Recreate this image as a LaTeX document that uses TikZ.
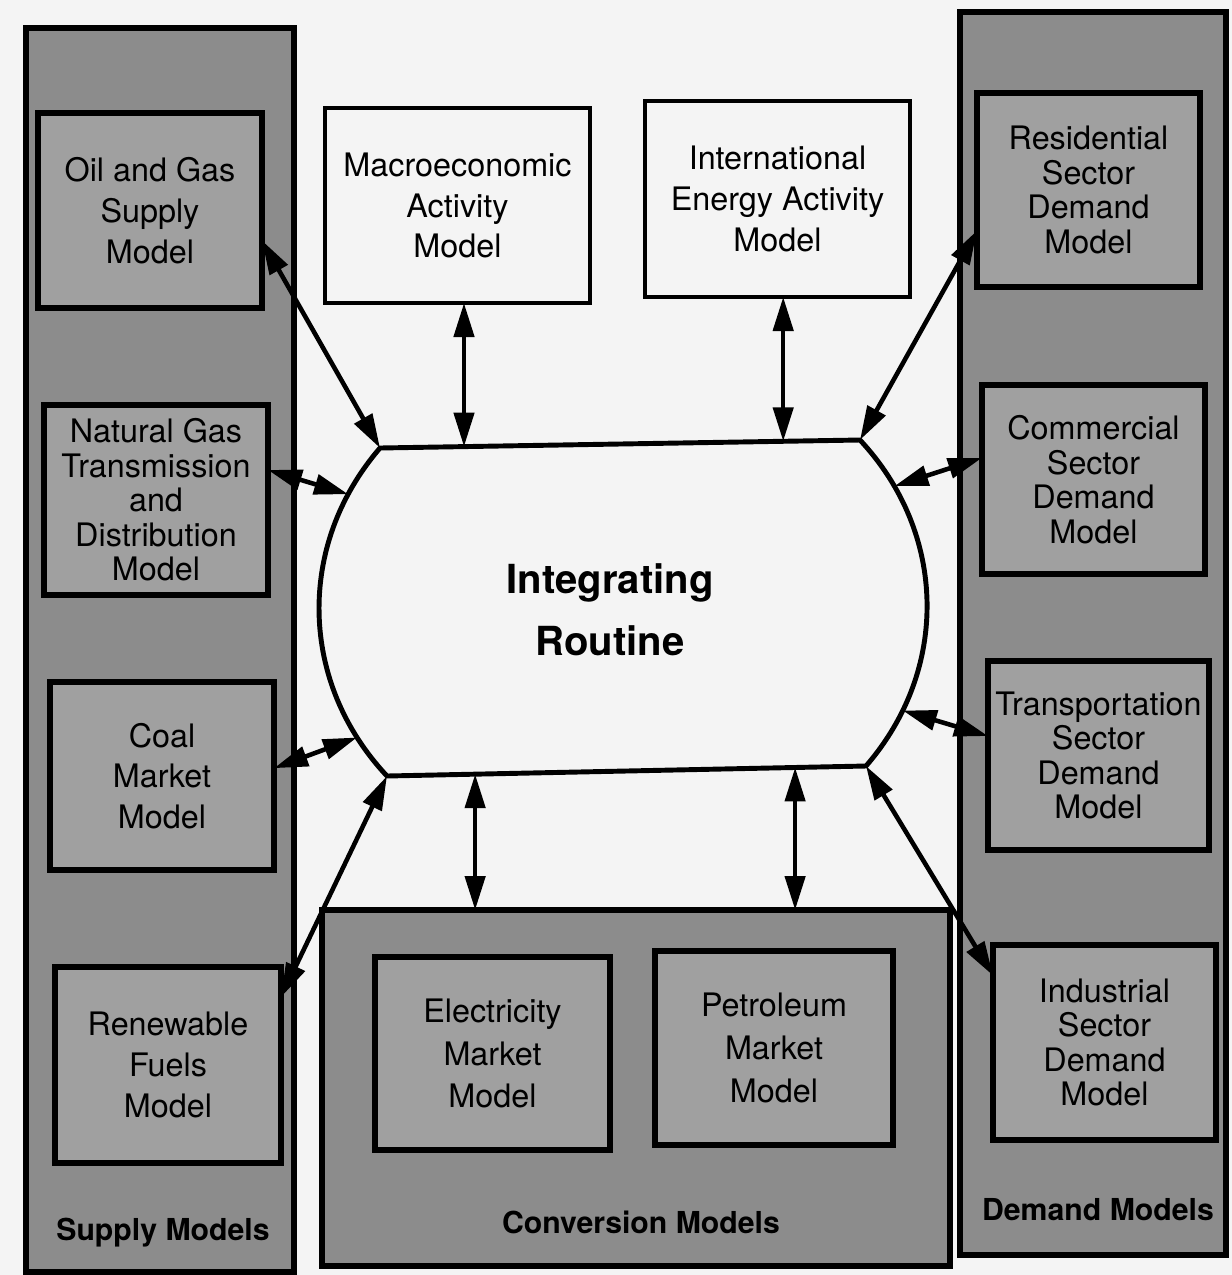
\documentclass[tikz,border=0pt]{standalone}
\usepackage{fontspec}
\setmainfont{TeX Gyre Heros}
\usetikzlibrary{arrows.meta, calc}
\definecolor{paper}{RGB}{244,244,244}
\definecolor{panelgray}{RGB}{140,140,140}
\definecolor{boxgray}{RGB}{160,160,160}

\begin{document}
\begin{tikzpicture}
	\tikzstyle{panel} = [draw, line width=1.7pt, fill=panelgray, inner sep=0pt, outer sep=0pt]
	\tikzstyle{model} = [draw, line width=1.6pt, fill=boxgray, align=center, inner sep=0pt, outer sep=0pt, minimum width=2.24cm, minimum height=1.93cm, font=\fontsize{9.2}{11.6}\selectfont]
	\tikzstyle{sector} = [model, font=\fontsize{9.2}{9.8}\selectfont]
	\tikzstyle{outside} = [model, fill=paper, line width=1.4pt, minimum width=2.65cm, minimum height=1.95cm]
	\tikzstyle{paneltitle} = [inner sep=0pt, font=\bfseries\fontsize{8.6}{10}\selectfont]
	\tikzstyle{routine} = [draw, line width=1.4pt]
	\tikzstyle{link} = [<->, >={Triangle[length=3.4mm,width=2mm]}, line width=1.3pt]

	\fill[paper] (0,0) rectangle (12.32,-12.75);
	\useasboundingbox (0,0) rectangle (12.32,-12.75);

	% Panels
	\node[panel, minimum width=2.68cm, minimum height=12.44cm] (supply) at (1.60,-6.50) {};
	\node[panel, minimum width=2.66cm, minimum height=12.43cm] (demand) at (10.93,-6.335) {};
	\node[panel, minimum width=6.28cm, minimum height=3.56cm] (conv) at (6.36,-10.88) {};
	\node[paneltitle] (supplyTitle) at (1.63,-12.33) {Supply Models};
	\node[paneltitle] (convTitle) at (6.41,-12.22) {Conversion Models};
	\node[paneltitle] (demandTitle) at (10.98,-12.10) {Demand Models};

	% Supply models
	\node[model, minimum height=1.95cm] (oil) at (1.50,-2.105) {Oil and Gas\\Supply\\Model};
	\node[sector, minimum height=1.90cm] (ng) at (1.56,-5.00) {Natural Gas\\Transmission\\and\\Distribution\\Model};
	\node[model, minimum height=1.88cm] (coal) at (1.62,-7.76) {Coal\\Market\\Model};
	\node[model, minimum width=2.26cm, minimum height=1.96cm] (ren) at (1.68,-10.65) {Renewable\\Fuels\\Model};

	% Outside models
	\node[outside] (macro) at (4.575,-2.055) {Macroeconomic\\Activity\\Model};
	\node[outside, minimum height=1.96cm] (intl) at (7.775,-1.99) {International\\Energy Activity\\Model};

	% Demand models
	\node[sector, minimum width=2.23cm, minimum height=1.94cm] (res) at (10.885,-1.90) {Residential\\Sector\\Demand\\Model};
	\node[sector, minimum width=2.23cm, minimum height=1.89cm] (com) at (10.935,-4.795) {Commercial\\Sector\\Demand\\Model};
	\node[sector, minimum width=2.21cm, minimum height=1.89cm] (trans) at (10.985,-7.555) {Transportation\\Sector\\Demand\\Model};
	\node[sector, minimum width=2.23cm, minimum height=1.95cm] (ind) at (11.045,-10.425) {Industrial\\Sector\\Demand\\Model};

	% Conversion models
	\node[model, minimum width=2.35cm, font=\fontsize{9.2}{12.2}\selectfont] (elec) at (4.925,-10.535) {Electricity\\Market\\Model};
	\node[model, minimum width=2.38cm, minimum height=1.94cm, font=\fontsize{9.2}{12.2}\selectfont] (petrol) at (7.74,-10.48) {Petroleum\\Market\\Model};

	% Integrating routine
	\coordinate (irTL) at (3.80,-4.48);
	\coordinate (irTR) at (8.60,-4.40);
	\coordinate (irBR) at (8.66,-7.66);
	\coordinate (irBL) at (3.87,-7.76);
	\draw[routine] (irTL) -- (irTR)
		to[bend left=42] coordinate[pos=0.155] (comIR) coordinate[pos=0.82] (trIR) (irBR)
		-- (irBL)
		to[bend left=42] coordinate[pos=0.13] (coalIR) coordinate[pos=0.85] (ngIR) (irTL) -- cycle;
	\node[align=center, font=\bfseries\fontsize{11.4}{17.7}\selectfont] (ir) at (6.10,-6.10) {Integrating\\Routine};
	\coordinate (mTop) at ($(irTL)!0.175!(irTR)$);
	\coordinate (iTop) at ($(irTL)!0.84!(irTR)$);
	\coordinate (eBot) at ($(irBL)!0.184!(irBR)$);
	\coordinate (pBot) at ($(irBL)!0.852!(irBR)$);

	% Links to supply
	\draw[link] (oil.-15) -- (irTL);
	\draw[link] (ng.15) -- (ngIR);
	\draw[link] (coal.4) -- (coalIR);
	\draw[link] (ren.31) -- (irBL);
	% Links to outside
	\draw[link] (mTop |- macro.south) -- (mTop);
	\draw[link] (iTop |- intl.south) -- (iTop);
	% Links to demand
	\draw[link] (res.200) -- (irTR);
	\draw[link] (com.169) -- (comIR);
	\draw[link] (trans.170) -- (trIR);
	\draw[link] (ind.149) -- (irBR);
	% Links to conversion
	\draw[link] (eBot) -- (eBot |- conv.north);
	\draw[link] (pBot) -- (pBot |- conv.north);

\end{tikzpicture}
\end{document}
